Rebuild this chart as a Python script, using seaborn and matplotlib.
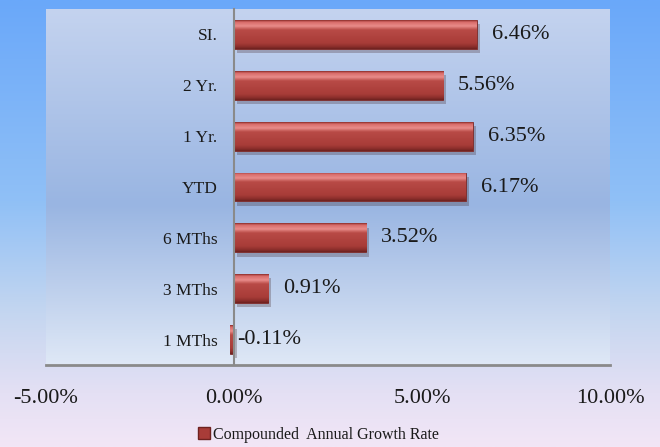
import numpy as np
import seaborn as sns
import matplotlib.pyplot as plt
from matplotlib.colors import LinearSegmentedColormap
from matplotlib.patches import Patch
import matplotlib.patheffects as pe

# data
periods = ["SI.", "2 Yr.", "1 Yr.", "YTD", "6 MThs", "3 MThs", "1 MThs"]
growth = [6.46, 5.56, 6.35, 6.17, 3.52, 0.91, -0.11]
x_ticks = [-5, 0, 5, 10]
series_name = "Compounded  Annual Growth Rate"

sns.set_style("white")
plt.rcParams['font.family'] = ['Liberation Serif', 'DejaVu Serif']
text_col = '#1a1a1a'

fig = plt.figure(figsize=(6.6, 4.47), dpi=100)

# figure background gradient (blue top -> lavender bottom)
bg = fig.add_axes([0, 0, 1, 1], zorder=-5)
bg_cmap = LinearSegmentedColormap.from_list(
    'bg', [(0, '#6aa8fa'), (0.45, '#90c0f6'), (0.7, '#c4d6f0'), (0.88, '#e4e0f4'), (1, '#f2e6f6')])
bg.imshow(np.linspace(0, 1, 256).reshape(-1, 1), cmap=bg_cmap, aspect='auto',
          extent=(0, 1, 0, 1), transform=bg.transAxes)
bg.axis('off')

ax = fig.add_axes([46 / 660, 82 / 447, 564 / 660, 356 / 447])
ax.set_facecolor('none')

# plot area gradient
pa_cmap = LinearSegmentedColormap.from_list(
    'pa', [(0, '#c4d3ef'), (0.55, '#99b5e2'), (1, '#dfe8f6')])
ax.imshow(np.linspace(0, 1, 256).reshape(-1, 1), cmap=pa_cmap, aspect='auto',
          extent=(0, 1, 0, 1), transform=ax.transAxes, zorder=0)

sns.barplot(x=growth, y=periods, orient='h', color='#ad403c', width=0.57,
            saturation=1, ax=ax, zorder=2)

bar_cmap = LinearSegmentedColormap.from_list(
    'bar', [(0, '#8e302c'), (0.06, '#d86a68'), (0.2, '#e98c8a'), (0.34, '#b84a46'),
            (0.8, '#a83c38'), (0.93, '#8a2e2b'), (1, '#6e2220')])
grad = np.linspace(0, 1, 64).reshape(-1, 1)
for p in ax.patches:
    p.set_edgecolor('#7a2a28')
    p.set_linewidth(0.6)
    p.set_path_effects([pe.SimplePatchShadow(offset=(2, -3), alpha=0.25), pe.Normal()])
    x0, y0, w, h = p.get_x(), p.get_y(), p.get_width(), p.get_height()
    im = ax.imshow(grad, cmap=bar_cmap, aspect='auto', extent=(x0, x0 + w, y0 + h, y0),
                   zorder=2.5, interpolation='bilinear')
    im.set_clip_path(p)

# value labels
for i, v in enumerate(growth):
    off = 15 if v >= 0 else 3
    ax.annotate(f"{v:.2f}%", xy=(max(v, 0), i), xytext=(off, 0), textcoords='offset pixels',
                ha='left', va='center', fontsize=16, color=text_col)

ax.set_xlim(-5, 10)
ax.set_ylim(6.5, -0.5)
ax.set_xticks(x_ticks, labels=[f"{t:.2f}%" for t in x_ticks])
ax.tick_params(axis='x', length=0, pad=17, labelsize=16, labelcolor=text_col)
ax.tick_params(axis='y', length=0, pad=12, labelsize=12.5, labelcolor=text_col)
ax.set_xlabel("")
ax.set_ylabel("")

for s in ['top', 'right']:
    ax.spines[s].set_visible(False)
ax.spines['left'].set_position(('data', 0))
ax.spines['left'].set_color('#8a8a8a')
ax.spines['left'].set_linewidth(1.5)
ax.spines['left'].set_zorder(3)
ax.spines['bottom'].set_color('#8a8a8a')
ax.spines['bottom'].set_linewidth(2)

fig.legend(handles=[Patch(facecolor='#a83c38', edgecolor='#6e2220')], labels=[series_name],
           loc='lower center', bbox_to_anchor=(0.482, -0.012), frameon=False,
           handlelength=0.75, handleheight=0.75, handletextpad=0.2, fontsize=11.5,
           labelcolor=text_col, borderaxespad=0.2)

fig.savefig('out.png', dpi=100)
